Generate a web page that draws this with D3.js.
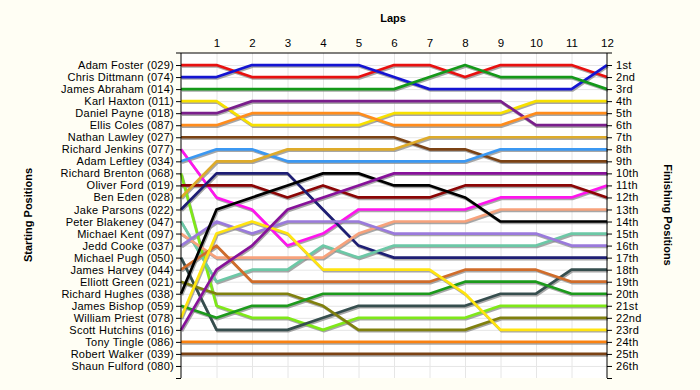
<!DOCTYPE html>
<html>
<head>
<meta charset="utf-8">
<script src="https://cdn.jsdelivr.net/npm/d3@7"></script>
<style>
  body { margin: 0; background: #fffef4; }
  text { font-family: Arial, "Liberation Sans", sans-serif; }
</style>
</head>
<body>
<div id="container"></div>
<script>
// Grid order = starting position.
const drivers = [
  'Adam Foster (029)', 'Chris Dittmann (074)', 'James Abraham (014)', 'Karl Haxton (011)',
  'Daniel Payne (018)', 'Ellis Coles (087)', 'Nathan Lawley (027)', 'Richard Jenkins (077)',
  'Adam Leftley (034)', 'Richard Brenton (068)', 'Oliver Ford (019)', 'Ben Eden (028)',
  'Jake Parsons (022)', 'Peter Blakeney (047)', 'Michael Kent (097)', 'Jedd Cooke (037)',
  'Michael Pugh (050)', 'James Harvey (044)', 'Elliott Green (021)', 'Richard Hughes (038)',
  'James Bishop (059)', 'William Priest (078)', 'Scott Hutchins (016)', 'Tony Tingle (086)',
  'Robert Walker (039)', 'Shaun Fulford (080)'
];

const laps = d3.range(1, 13);

const finishLabels = ['1st', '2nd', '3rd', '4th', '5th', '6th', '7th', '8th', '9th', '10th',
  '11th', '12th', '13th', '14th', '15th', '16th', '17th', '18th', '19th', '20th',
  '21st', '22nd', '23rd', '24th', '25th', '26th'];

// position after each lap (lap 0 = grid), one row per driver above (Shaun Fulford: no laps)
const positions = [
  [1, 1, 2, 2, 2, 2, 1, 1, 2, 1, 1, 1, 2],
  [2, 2, 1, 1, 1, 1, 2, 3, 3, 3, 3, 3, 1],
  [3, 3, 3, 3, 3, 3, 3, 2, 1, 2, 2, 2, 3],
  [4, 4, 6, 6, 6, 6, 5, 5, 5, 5, 4, 4, 4],
  [5, 5, 4, 4, 4, 4, 4, 4, 4, 4, 6, 6, 6],
  [6, 6, 5, 5, 5, 5, 6, 6, 6, 6, 5, 5, 5],
  [7, 7, 7, 7, 7, 7, 7, 8, 8, 9, 9, 9, 9],
  [8, 12, 13, 16, 15, 13, 13, 13, 13, 12, 12, 12, 11],
  [9, 8, 8, 9, 9, 9, 9, 9, 9, 8, 8, 8, 8],
  [10, 21, 22, 22, 23, 22, 22, 22, 22, 21, 21, 21, 21],
  [11, 11, 11, 12, 11, 12, 12, 12, 11, 11, 11, 11, 12],
  [12, 9, 9, 8, 8, 8, 8, 7, 7, 7, 7, 7, 7],
  [13, 10, 10, 10, 13, 16, 17, 17, 17, 17, 17, 17, 17],
  [14, 19, 18, 18, 16, 17, 16, 16, 16, 16, 16, 15, 15],
  [15, 17, 17, 17, 17, 15, 14, 14, 14, 13, 13, 13, 13],
  [16, 14, 15, 14, 14, 14, 15, 15, 15, 15, 15, 16, 16],
  [17, 23, 23, 23, 22, 21, 21, 21, 21, 20, 20, 18, 18],
  [18, 16, 19, 19, 19, 19, 19, 19, 18, 18, 18, 19, 19],
  [19, 20, 20, 20, 21, 23, 23, 23, 23, 22, 22, 22, 22],
  [20, 13, 12, 11, 10, 10, 11, 11, 12, 14, 14, 14, 14],
  [21, 22, 21, 21, 20, 20, 20, 20, 19, 19, 19, 20, 20],
  [22, 15, 14, 15, 18, 18, 18, 18, 20, 23, 23, 23, 23],
  [23, 18, 16, 13, 12, 11, 10, 10, 10, 10, 10, 10, 10],
  [24, 24, 24, 24, 24, 24, 24, 24, 24, 24, 24, 24, 24],
  [25, 25, 25, 25, 25, 25, 25, 25, 25, 25, 25, 25, 25]
];

const colours = [
  '#e81010', '#1414d2', '#14991a', '#f7e000', '#7a1f8c', '#ff8c1c', '#7b4214', '#ff14ee',
  '#3b98f2', '#7fe818', '#8b0505', '#deab2a', '#1e1e74', '#6cc8a6', '#f7a27c', '#9a7adc',
  '#364e4e', '#d06c2a', '#80800e', '#000000', '#1c9a1c', '#ffe410', '#87129a', '#fa8212',
  '#7b4214'
];

const W = 700, H = 390;
const svg = d3.select('#container').append('svg')
  .attr('width', W).attr('height', H);

const x = d3.scaleLinear().domain([0, 12]).range([181, 607]);
const y = d3.scaleLinear().domain([0, 27]).range([53, 378]);

// plot background
svg.append('rect')
  .attr('x', x(0)).attr('y', y(0))
  .attr('width', x(12) - x(0)).attr('height', y(27) - y(0))
  .attr('fill', '#ffffff');

// grid
const grid = svg.append('g').attr('stroke', '#e6e6e6').attr('stroke-width', 1);
grid.selectAll('.vg').data(laps.slice(0, -1)).join('line')
  .attr('x1', d => x(d) + 0.5).attr('x2', d => x(d) + 0.5)
  .attr('y1', y(0)).attr('y2', y(27));
grid.selectAll('.hg').data(d3.range(1, 27)).join('line')
  .attr('x1', x(0)).attr('x2', x(12))
  .attr('y1', d => y(d) + 0.5).attr('y2', d => y(d) + 0.5);

// race lines
const line = d3.line()
  .x((d, i) => x(i))
  .y(d => y(d));

const gLines = svg.append('g').attr('fill', 'none')
  .attr('stroke-linejoin', 'round').attr('stroke-linecap', 'butt');

gLines.selectAll('.shadow').data(positions).join('path')
  .attr('d', line)
  .attr('transform', 'translate(1,1.5)')
  .attr('stroke', '#8a8a8a')
  .attr('stroke-opacity', 0.75)
  .attr('stroke-width', 2.5);

gLines.selectAll('.race').data(positions).join('path')
  .attr('d', line)
  .attr('stroke', (d, i) => colours[i])
  .attr('stroke-width', 2.7);

// axes
const posTicks = d3.range(1, 28);
svg.append('g')
  .attr('transform', `translate(${x(0)},0)`)
  .call(d3.axisLeft(y).tickValues(posTicks).tickSize(5).tickPadding(2)
    .tickFormat(d => drivers[d - 1] || ''))
  .call(g => g.select('.domain').remove())
  .call(g => g.append('line').attr('y1', y(0)).attr('y2', y(27)).attr('stroke', '#000'))
  .call(g => g.selectAll('text').attr('font-size', 11).attr('fill', '#000')
    .attr('textLength', null)
    .style('font-family', 'Arial, "Liberation Sans", sans-serif')
    .style('letter-spacing', '0.25px'));

svg.append('g')
  .attr('transform', `translate(${x(12)},0)`)
  .call(d3.axisRight(y).tickValues(posTicks).tickSize(5).tickPadding(4)
    .tickFormat(d => finishLabels[d - 1] || ''))
  .call(g => g.select('.domain').remove())
  .call(g => g.append('line').attr('y1', y(0)).attr('y2', y(27)).attr('stroke', '#000'))
  .call(g => g.selectAll('text').attr('font-size', 11).attr('fill', '#000')
    .style('font-family', 'Arial, "Liberation Sans", sans-serif')
    .style('letter-spacing', '0.3px'));

svg.append('g')
  .attr('transform', `translate(0,${y(0)})`)
  .call(d3.axisTop(x).tickValues(laps).tickSize(0).tickPadding(6).tickFormat(d3.format('d')))
  .call(g => g.select('.domain').remove())
  .call(g => g.append('line').attr('x1', x(0) - 5).attr('x2', x(12) + 5).attr('stroke', '#000'))
  .call(g => g.selectAll('text').attr('font-size', 11.5).attr('fill', '#000')
    .style('font-family', 'Arial, "Liberation Sans", sans-serif'));

// titles
svg.append('text')
  .attr('x', 393).attr('y', 22)
  .attr('text-anchor', 'middle')
  .attr('font-size', 11).attr('font-weight', 'bold')
  .text('Laps');

svg.append('text')
  .attr('transform', 'translate(32,215) rotate(-90)')
  .attr('text-anchor', 'middle')
  .attr('font-size', 11).attr('font-weight', 'bold')
  .text('Starting Positions');

svg.append('text')
  .attr('transform', 'translate(664,215) rotate(90)')
  .attr('text-anchor', 'middle')
  .attr('font-size', 11).attr('font-weight', 'bold')
  .text('Finishing Positions');
</script>
</body>
</html>
